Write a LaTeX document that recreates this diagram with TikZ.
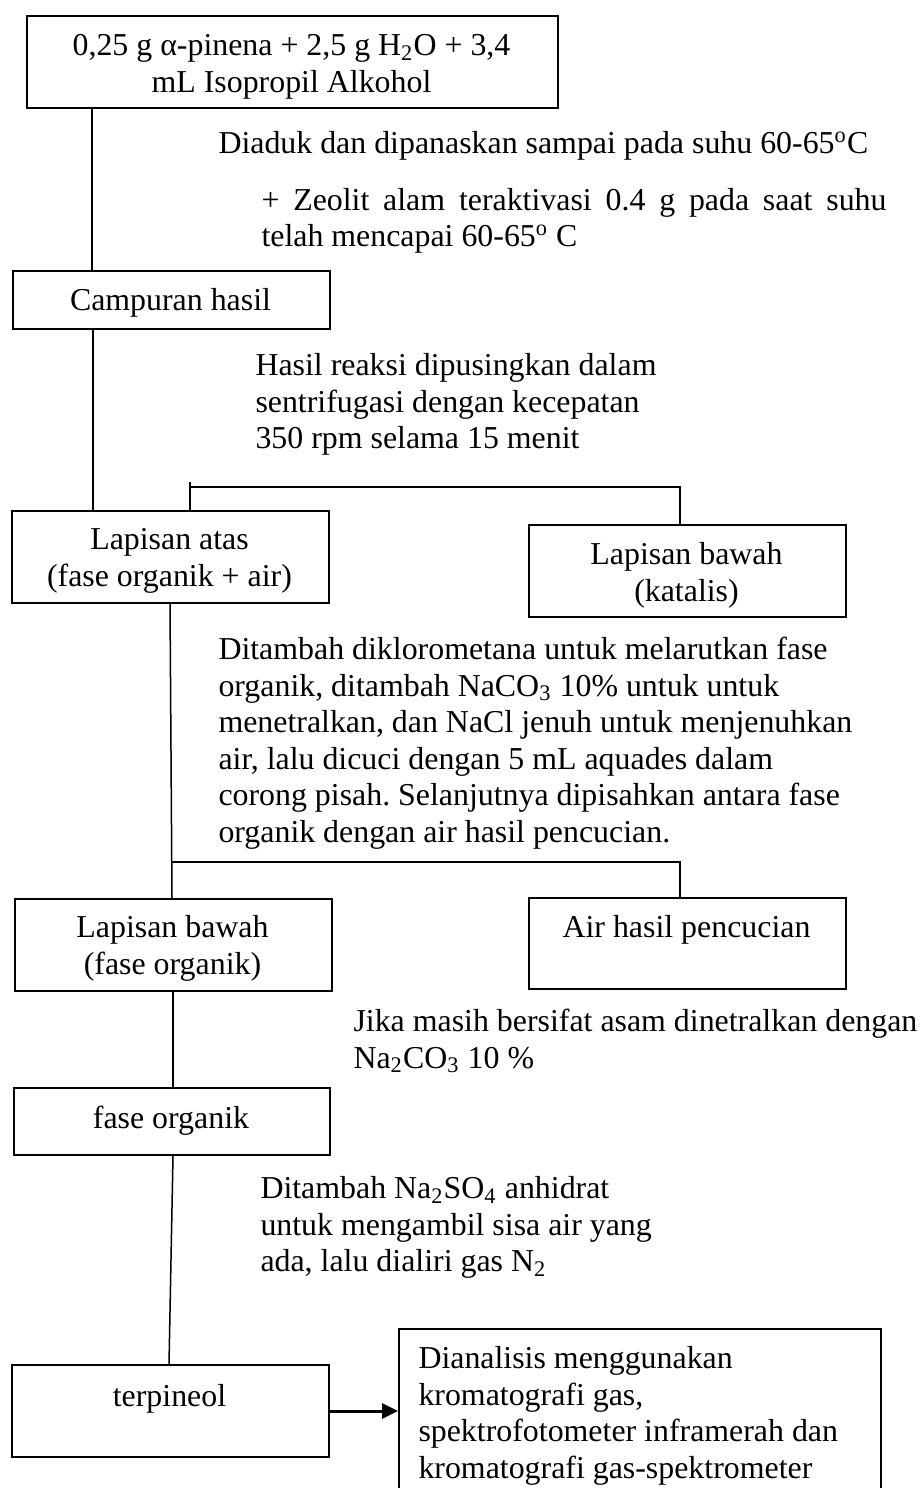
\documentclass[tikz,border=0pt]{standalone}
\usepackage{fontspec}
\setmainfont{Liberation Serif}
\usetikzlibrary{arrows.meta}
\newcommand{\tstr}{\rule{0pt}{10pt}}
\frenchspacing
\begin{document}
\begin{tikzpicture}[x=0.4pt, y=-0.4pt,
  box/.style={draw, line width=0.8pt, inner sep=0pt, anchor=north west},
  txt/.style={inner sep=0pt, font=\fontsize{12.75pt}{14.6pt}\selectfont},
  conn/.style={line width=0.6pt}]
\useasboundingbox (0,0) rectangle (923,1488);
\clip (0,0) rectangle (923,1488);
% boxes
\node[box, minimum width=212.4pt, minimum height=36.8pt] (b1) at (26,15) {};
\node[box, minimum width=126.8pt, minimum height=23.2pt] (camp) at (12,270) {};
\node[box, minimum width=126.8pt, minimum height=36.8pt] (atas) at (11,510) {};
\node[box, minimum width=126.8pt, minimum height=36.8pt] (kat) at (528,524) {};
\node[box, minimum width=126.8pt, minimum height=36.8pt] (bawah2) at (14,898) {};
\node[box, minimum width=126.8pt, minimum height=36.4pt] (airh) at (528,897) {};
\node[box, minimum width=126.4pt, minimum height=26.8pt] (fo) at (13,1087) {};
\node[box, minimum width=126.8pt, minimum height=36.8pt] (terp) at (11,1364) {};
\node[box, minimum width=192.8pt, minimum height=72.8pt] (anal) at (398,1328) {};
% box texts
\node[txt, anchor=north, align=center] (b1t) at (291.5,30)
  {\tstr 0,25 g α-pinena + 2,5 g H\textsubscript{2}O + 3,4\\mL Isopropil Alkohol};
\node[txt, anchor=base] (campt) at (170.5,310) {Campuran hasil};
\node[txt, anchor=north, align=center] (atast) at (169.5,524)
  {\tstr Lapisan atas\\(fase organik + air)};
\node[txt, anchor=north, align=center] (katt) at (686.5,539)
  {\tstr Lapisan bawah\\(katalis)};
\node[txt, anchor=north, align=center] (bawah2t) at (172.5,912)
  {\tstr Lapisan bawah\\(fase organik)};
\node[txt, anchor=base] (airht) at (686.5,937) {Air hasil pencucian};
\node[txt, anchor=base] (fot) at (171,1128) {fase organik};
\node[txt, anchor=base] (terpt) at (169.5,1406) {terpineol};
\node[txt, anchor=north west, align=left] (analt) at (418,1343)
  {\tstr Dianalisis menggunakan\\kromatografi gas,\\spektrofotometer inframerah dan\\kromatografi gas-spektrometer};
% free texts
\node[txt, anchor=north west, align=left] (t1) at (218,128)
  {\tstr Diaduk dan dipanaskan sampai pada suhu 60-65\textsuperscript{o}C};
\node[txt, anchor=north west, align=left, font=\fontsize{12.75pt}{14.2pt}\selectfont] (t2) at (261,185)
  {\tstr\makebox[250pt][s]{+ Zeolit alam teraktivasi 0.4 g pada saat suhu}\\telah mencapai 60-65\textsuperscript{o} C};
\node[txt, anchor=north west, align=left] (t3) at (255,350)
  {\tstr Hasil reaksi dipusingkan dalam\\sentrifugasi dengan kecepatan\\350 rpm selama 15 menit};
\node[txt, anchor=north west, align=left] (t4) at (218,634)
  {\tstr Ditambah diklorometana untuk melarutkan fase\\organik, ditambah NaCO\textsubscript{3} 10\% untuk untuk\\menetralkan, dan NaCl jenuh untuk menjenuhkan\\air, lalu dicuci dengan 5 mL aquades dalam\\corong pisah. Selanjutnya dipisahkan antara fase\\organik dengan air hasil pencucian.};
\node[txt, anchor=north west, align=left] (t5) at (353,1006)
  {\tstr Jika masih bersifat asam dinetralkan dengan\\Na\textsubscript{2}CO\textsubscript{3} 10 \%};
\node[txt, anchor=north west, align=left] (t6) at (260,1173)
  {\tstr Ditambah Na\textsubscript{2}SO\textsubscript{4} anhidrat\\untuk mengambil sisa air yang\\ada, lalu dialiri gas N\textsubscript{2}};
% connectors
\coordinate (c1) at (92,0);
\draw[conn] (b1.south -| c1) -- (camp.north -| c1);
\coordinate (c2) at (93,0);
\draw[conn] (camp.south -| c2) -- (atas.north -| c2);
\coordinate (j1) at (190,487);
\coordinate (j1t) at (190,482);
\coordinate (k1) at (680,487);
\draw[conn] (j1t) -- (atas.north -| j1t);
\draw[conn] (j1) -- (k1) -- (kat.north -| k1);
\coordinate (c3a) at (170,0);
\coordinate (c3b) at (172,0);
\draw[conn] (atas.south -| c3a) -- (bawah2.north -| c3b);
\coordinate (j2) at (172,862);
\coordinate (k2) at (680,862);
\draw[conn] (j2) -- (k2) -- (airh.north -| k2);
\coordinate (c4) at (173,0);
\draw[conn] (bawah2.south -| c4) -- (fo.north -| c4);
\coordinate (c5b) at (169,0);
\draw[conn] (fo.south -| c4) -- (terp.north -| c5b);
\coordinate (ar) at (0,1411);
\draw[line width=1.2pt, -{Triangle[length=6.4pt,width=6pt]}] (terp.east |- ar) -- (anal.west |- ar);
\end{tikzpicture}
\end{document}
